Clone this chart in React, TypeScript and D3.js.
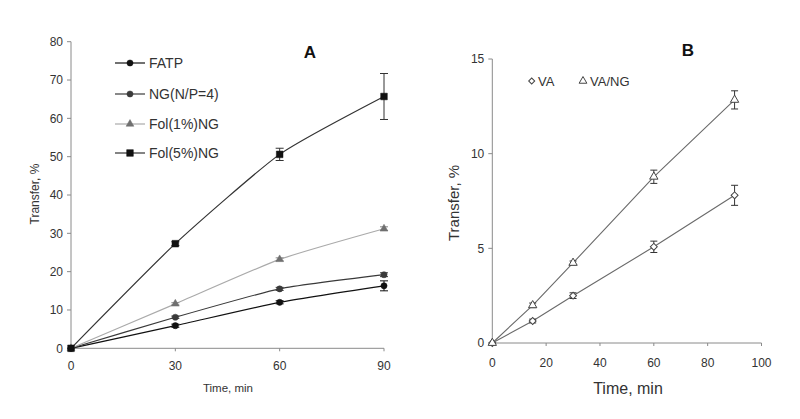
import React from 'react';
import * as d3 from 'd3';

// Panel A data
const timesA = [0, 30, 60, 90];
const fatp = [0, 5.9, 12.0, 16.3];
const fatpErr = [0, 0.4, 0.4, 1.3];
const ngNP4 = [0, 8.1, 15.5, 19.2];
const ngNP4Err = [0, 0.3, 0.4, 0.5];
const fol1 = [0, 11.6, 23.2, 31.2];
const fol1Err = [0, 0.3, 0.4, 0.5];
const fol5 = [0, 27.3, 50.6, 65.7];
const fol5Err = [0, 0.5, 1.6, 6.0];
const ticksAX = [0, 30, 60, 90];
const ticksAY = [0, 10, 20, 30, 40, 50, 60, 70, 80];
const seriesNamesA = ['FATP', 'NG(N/P=4)', 'Fol(1%)NG', 'Fol(5%)NG'];

// Panel B data
const timesB = [0, 15, 30, 60, 90];
const va = [0, 1.16, 2.5, 5.08, 7.8];
const vaErr = [0, 0.1, 0.15, 0.3, 0.53];
const vaNg = [0, 1.99, 4.23, 8.78, 12.84];
const vaNgErr = [0, 0.12, 0.1, 0.35, 0.48];
const ticksBX = [0, 20, 40, 60, 80, 100];
const ticksBY = [0, 5, 10, 15];
const seriesNamesB = ['VA', 'VA/NG'];

const FONT = '"Liberation Sans", Arial, sans-serif';

type Marker = 'circle' | 'square' | 'triangle' | 'diamond';

function markerPath(kind: Marker, size: number) {
  const t =
    kind === 'circle' ? d3.symbolCircle :
    kind === 'square' ? d3.symbolSquare :
    kind === 'triangle' ? d3.symbolTriangle : d3.symbolSquare;
  return d3.symbol().type(t).size(size)() as string;
}

function Sym({ x, y, kind, size, fill, stroke, sw = 1 }: any) {
  const rot = kind === 'diamond' ? 45 : 0;
  return (
    <path
      d={markerPath(kind, size)}
      transform={`translate(${x},${y}) rotate(${rot})`}
      fill={fill}
      stroke={stroke}
      strokeWidth={sw}
    />
  );
}

function ErrBar({ x, y0, y1, color, cap = 4 }: any) {
  return (
    <g stroke={color} strokeWidth={1}>
      <line x1={x} x2={x} y1={y0} y2={y1} />
      <line x1={x - cap} x2={x + cap} y1={y0} y2={y0} />
      <line x1={x - cap} x2={x + cap} y1={y1} y2={y1} />
    </g>
  );
}

export default function App() {
  // Panel A scales
  const xA = d3.scaleLinear().domain([0, 90]).range([71, 384]);
  const yA = d3.scaleLinear().domain([0, 80]).range([348.3, 41.7]);
  // Panel B scales
  const xB = d3.scaleLinear().domain([0, 100]).range([492.3, 761.5]);
  const yB = d3.scaleLinear().domain([0, 15]).range([343, 59]);

  const seriesA = [
    { name: seriesNamesA[0], vals: fatp, err: fatpErr, line: '#111', fill: '#111', kind: 'circle' as Marker, size: 30 },
    { name: seriesNamesA[1], vals: ngNP4, err: ngNP4Err, line: '#3a3a3a', fill: '#3a3a3a', kind: 'circle' as Marker, size: 30 },
    { name: seriesNamesA[2], vals: fol1, err: fol1Err, line: '#aaa', fill: '#707070', kind: 'triangle' as Marker, size: 26 },
    { name: seriesNamesA[3], vals: fol5, err: fol5Err, line: '#333', fill: '#111', kind: 'square' as Marker, size: 44 },
  ];

  const lineA = d3
    .line<[number, number]>()
    .x((d) => xA(d[0]))
    .y((d) => yA(d[1]))
    .curve(d3.curveCardinal.tension(0.45));

  const seriesB = [
    { name: seriesNamesB[0], vals: va, err: vaErr, kind: 'diamond' as Marker, size: 24 },
    { name: seriesNamesB[1], vals: vaNg, err: vaNgErr, kind: 'triangle' as Marker, size: 30 },
  ];

  const lineB = d3
    .line<[number, number]>()
    .x((d) => xB(d[0]))
    .y((d) => yB(d[1]));

  const axisColor = '#8a8a8a';
  const textColor = '#333';

  const legendRowsY = [63, 94, 124, 153];

  return (
    <svg
      width={800}
      height={419}
      style={{ position: 'absolute', left: 0, top: 0, background: '#fff' }}
      fontFamily={FONT}
    >
      <rect x={0} y={0} width={800} height={419} fill="#fff" />

      {/* ---------------- Panel A ---------------- */}
      <g>
        <line x1={xA(0)} x2={xA(0)} y1={yA(0)} y2={yA(80)} stroke={axisColor} />
        <line x1={xA(0)} x2={xA(90)} y1={yA(0)} y2={yA(0)} stroke={axisColor} />
        {ticksAY.map((t) => (
          <g key={'ay' + t}>
            <line x1={xA(0) - 4} x2={xA(0)} y1={yA(t)} y2={yA(t)} stroke={axisColor} />
            <text x={xA(0) - 8} y={yA(t)} dy="0.35em" textAnchor="end" fontSize={12} fill={textColor}>
              {t}
            </text>
          </g>
        ))}
        {ticksAX.map((t) => (
          <g key={'ax' + t}>
            <line x1={xA(t)} x2={xA(t)} y1={yA(0)} y2={yA(0) + 3} stroke={axisColor} />
            <text x={xA(t)} y={366} dy="0.35em" textAnchor="middle" fontSize={12} fill={textColor}>
              {t}
            </text>
          </g>
        ))}
        <text x={228} y={392} textAnchor="middle" fontSize={11.5} fill={textColor}>
          Time, min
        </text>
        <text
          transform={`translate(39,194) rotate(-90)`}
          textAnchor="middle"
          fontSize={12}
          fill={textColor}
        >
          Transfer, %
        </text>
        <text x={310} y={58} textAnchor="middle" fontSize={17} fontWeight="bold" fill="#111">
          A
        </text>

        {seriesA.map((s) => (
          <path
            key={'la' + s.name}
            d={lineA(timesA.map((t, i) => [t, s.vals[i]] as [number, number])) as string}
            fill="none"
            stroke={s.line}
            strokeWidth={1.2}
          />
        ))}
        {seriesA.map((s) =>
          timesA.map((t, i) =>
            s.err[i] > 0.2 ? (
              <ErrBar
                key={'ea' + s.name + i}
                x={xA(t)}
                y0={yA(s.vals[i] + s.err[i])}
                y1={yA(s.vals[i] - s.err[i])}
                color={s.line === '#aaa' ? '#888' : s.line}
                cap={4}
              />
            ) : null
          )
        )}
        {seriesA.map((s) =>
          timesA.map((t, i) => (
            <Sym key={'ma' + s.name + i} x={xA(t)} y={yA(s.vals[i])} kind={s.kind} size={s.size} fill={s.fill} stroke={s.fill} sw={0.5} />
          ))
        )}

        {seriesA.map((s, k) => (
          <g key={'lg' + s.name}>
            <line x1={115} x2={145} y1={legendRowsY[k]} y2={legendRowsY[k]} stroke={s.line} strokeWidth={1.2} />
            <Sym x={130} y={legendRowsY[k]} kind={s.kind} size={s.size} fill={s.fill} stroke={s.fill} sw={0.5} />
            <text x={149} y={legendRowsY[k]} dy="0.36em" fontSize={14} fill={textColor}>
              {s.name}
            </text>
          </g>
        ))}
      </g>

      {/* ---------------- Panel B ---------------- */}
      <g>
        <line x1={xB(0)} x2={xB(0)} y1={yB(0)} y2={yB(15)} stroke={axisColor} />
        <line x1={xB(0)} x2={xB(100)} y1={yB(0)} y2={yB(0)} stroke={axisColor} />
        {ticksBY.map((t) => (
          <g key={'by' + t}>
            <line x1={xB(0) - 4} x2={xB(0)} y1={yB(t)} y2={yB(t)} stroke={axisColor} />
            <text x={xB(0) - 8} y={yB(t)} dy="0.35em" textAnchor="end" fontSize={12} fill={textColor}>
              {t}
            </text>
          </g>
        ))}
        {ticksBX.map((t) => (
          <g key={'bx' + t}>
            <line x1={xB(t)} x2={xB(t)} y1={yB(0)} y2={yB(0) + 3} stroke={axisColor} />
            <text x={xB(t)} y={363} dy="0.35em" textAnchor="middle" fontSize={12} fill={textColor}>
              {t}
            </text>
          </g>
        ))}
        <text x={628} y={394} textAnchor="middle" fontSize={16} fill="#333">
          Time, min
        </text>
        <text
          transform={`translate(459,203) rotate(-90)`}
          textAnchor="middle"
          fontSize={15}
          fill="#333"
        >
          Transfer, %
        </text>
        <text x={688} y={56} textAnchor="middle" fontSize={17} fontWeight="bold" fill="#111">
          B
        </text>

        {seriesB.map((s) => (
          <path
            key={'lb' + s.name}
            d={lineB(timesB.map((t, i) => [t, s.vals[i]] as [number, number])) as string}
            fill="none"
            stroke="#6a6a6a"
            strokeWidth={1.1}
          />
        ))}
        {seriesB.map((s) =>
          timesB.map((t, i) =>
            s.err[i] > 0 ? (
              <ErrBar
                key={'eb' + s.name + i}
                x={xB(t)}
                y0={yB(s.vals[i] + s.err[i])}
                y1={yB(s.vals[i] - s.err[i])}
                color="#333"
                cap={3.5}
              />
            ) : null
          )
        )}
        {seriesB.map((s) =>
          timesB.map((t, i) => (
            <Sym key={'mb' + s.name + i} x={xB(t)} y={yB(s.vals[i])} kind={s.kind} size={s.size} fill="#fff" stroke="#444" sw={1} />
          ))
        )}

        <Sym x={531.7} y={81} kind="diamond" size={18} fill="#fff" stroke="#444" sw={1} />
        <text x={538} y={81} dy="0.36em" fontSize={13} fill={textColor}>
          {seriesB[0].name}
        </text>
        <Sym x={583} y={81} kind="triangle" size={26} fill="#fff" stroke="#444" sw={1} />
        <text x={590} y={81} dy="0.36em" fontSize={13} fill={textColor}>
          {seriesB[1].name}
        </text>
      </g>
    </svg>
  );
}
